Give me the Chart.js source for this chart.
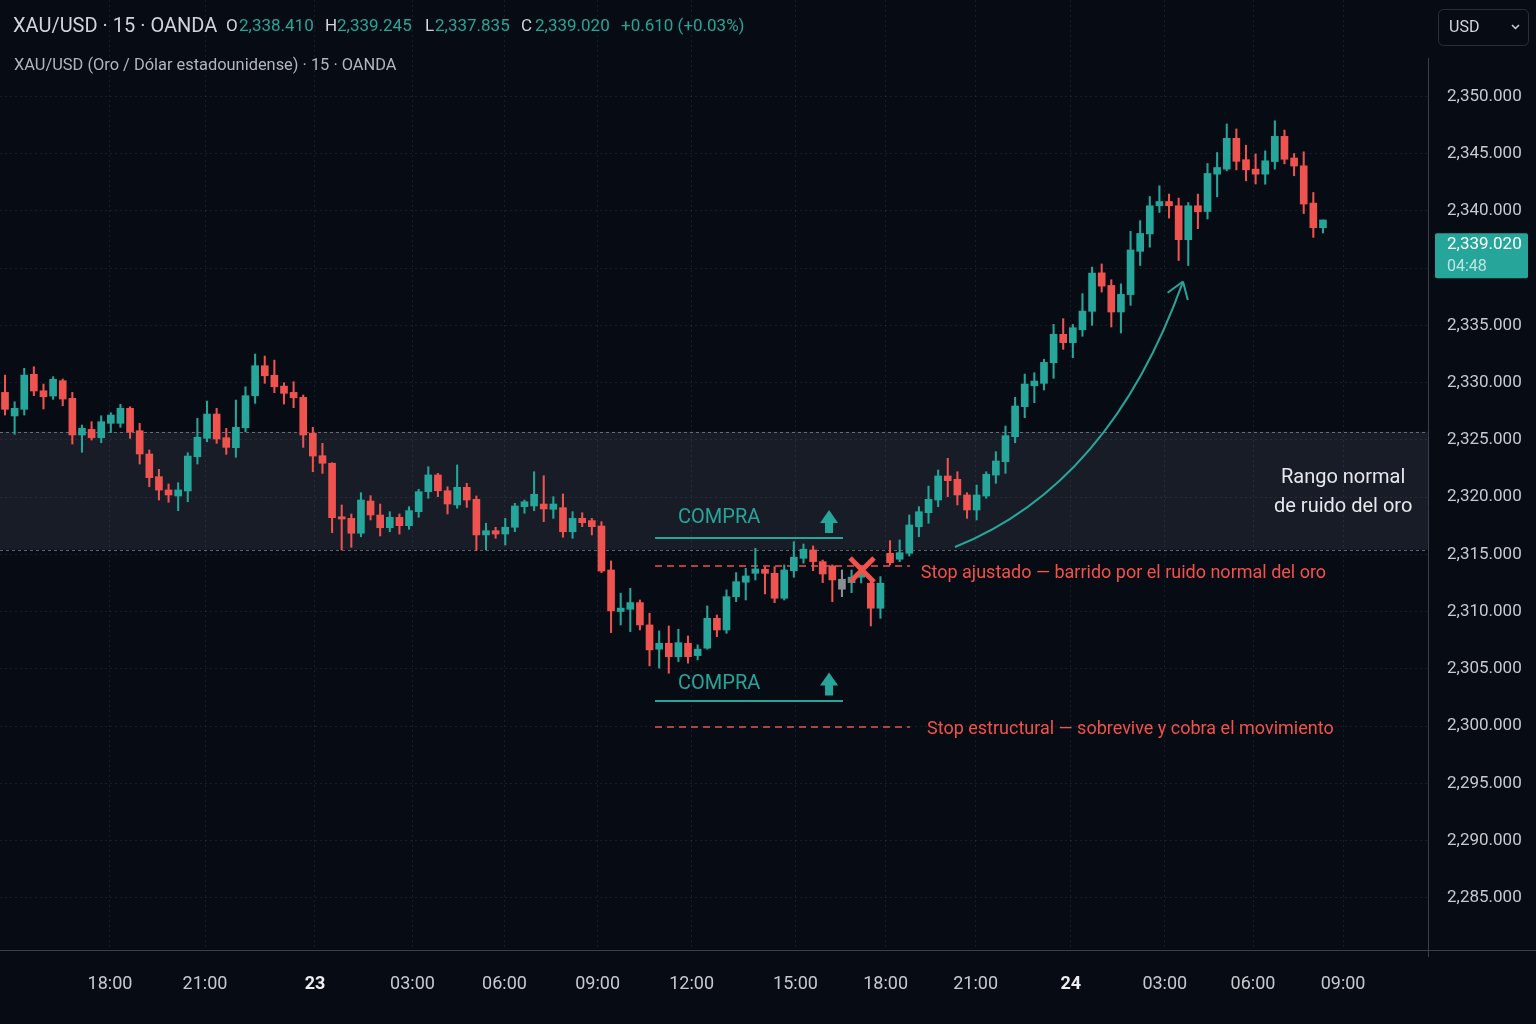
<!doctype html>
<html lang="es">
  <head>
    <meta charset="utf-8">
    <title>XAU/USD 15 OANDA</title>
    <script src="https://cdn.jsdelivr.net/npm/chart.js@4.4.1/dist/chart.umd.min.js"></script>
    <style>
      * { margin: 0; padding: 0; }
      body { background: #070b13; }
      canvas { display: block; }
    </style>
  </head>
  <body>
    <canvas id="myChart" width="1536" height="1024"></canvas>
    <script>
    // 15 min candles, one per index
    const opens = [
      2329.14, 2327.08, 2327.66, 2330.72, 2329.28, 2328.82, 2330.16, 2328.62, 2325.42, 2325.91,
      2325.18, 2326.44, 2326.44, 2327.75, 2325.79, 2323.76, 2321.78, 2320.62, 2320.09, 2320.53,
      2323.52, 2325.13, 2327.25, 2325.18, 2324.31, 2326.05, 2328.85, 2331.47, 2330.63, 2329.69,
      2329.14, 2328.71, 2325.57, 2323.61, 2322.95, 2318.28, 2318.14, 2316.84, 2319.65, 2318.43,
      2317.32, 2318.23, 2317.50, 2318.72, 2320.47, 2321.93, 2320.55, 2319.31, 2320.85, 2319.80,
      2316.69, 2317.06, 2316.77, 2317.36, 2319.16, 2319.22, 2319.39, 2318.93, 2319.07, 2316.97,
      2318.14, 2317.94, 2317.47, 2313.63, 2310.00, 2310.20, 2310.78, 2308.83, 2306.71, 2307.23,
      2306.06, 2307.23, 2306.15, 2306.80, 2309.41, 2308.39, 2311.30, 2312.56, 2313.34, 2313.69,
      2313.34, 2311.16, 2313.57, 2314.65, 2315.38, 2314.36, 2313.98, 2311.95, 2312.52, 2313.00,
      2312.47, 2310.29, 2315.09, 2314.57, 2315.09, 2317.41, 2318.63, 2319.74, 2321.84, 2321.55,
      2320.18, 2318.87, 2320.09, 2321.92, 2323.09, 2325.27, 2327.89, 2329.72, 2329.93, 2331.73,
      2334.21, 2333.48, 2334.61, 2335.61, 2337.29, 2336.74, 2335.58, 2336.34, 2338.23, 2338.99,
      2340.44, 2340.81, 2340.44, 2338.74, 2340.44, 2339.97, 2343.20, 2343.64, 2346.33, 2344.46,
      2343.64, 2343.20, 2344.30, 2346.50, 2344.61, 2343.93, 2340.67, 2339.26
    ];
    const highs = [
      2330.65, 2328.32, 2331.24, 2331.38, 2329.87, 2330.51, 2330.31, 2329.14, 2326.29, 2326.58,
      2327.10, 2327.36, 2328.10, 2327.89, 2326.44, 2324.11, 2322.42, 2321.14, 2321.25, 2323.87,
      2326.87, 2328.38, 2327.75, 2326.00, 2328.47, 2329.63, 2332.49, 2332.31, 2331.96, 2329.98,
      2330.07, 2328.91, 2326.09, 2324.69, 2323.00, 2319.31, 2318.52, 2320.38, 2320.12, 2319.39,
      2318.72, 2318.52, 2319.16, 2320.68, 2322.65, 2322.07, 2320.90, 2322.80, 2321.20, 2320.09,
      2317.71, 2317.36, 2318.14, 2319.45, 2319.74, 2322.21, 2321.86, 2320.03, 2320.27, 2318.72,
      2318.63, 2318.14, 2317.85, 2314.42, 2311.60, 2312.03, 2311.01, 2309.85, 2308.31, 2308.74,
      2308.45, 2307.87, 2307.09, 2310.49, 2309.70, 2311.89, 2313.40, 2313.78, 2315.52, 2313.92,
      2313.92, 2314.07, 2316.10, 2315.90, 2315.73, 2314.50, 2314.07, 2313.63, 2313.63, 2313.70,
      2313.05, 2313.05, 2316.19, 2316.25, 2318.43, 2319.16, 2320.96, 2322.36, 2323.38, 2322.21,
      2320.38, 2321.05, 2322.21, 2323.96, 2326.20, 2328.71, 2330.74, 2330.86, 2332.03, 2335.04,
      2335.29, 2335.04, 2336.38, 2337.54, 2337.68, 2336.99, 2336.81, 2339.10, 2339.57, 2341.25,
      2342.18, 2341.46, 2341.11, 2340.72, 2341.46, 2344.13, 2345.09, 2347.58, 2347.15, 2345.73,
      2344.96, 2345.23, 2347.86, 2347.05, 2345.00, 2345.15, 2341.60, 2339.60
    ];
    const lows = [
      2327.16, 2325.48, 2327.16, 2328.85, 2327.69, 2328.53, 2327.97, 2324.63, 2323.91, 2324.98,
      2324.74, 2325.62, 2326.09, 2325.13, 2322.88, 2320.90, 2319.74, 2319.54, 2318.81, 2319.59,
      2322.88, 2324.83, 2324.69, 2323.73, 2323.47, 2325.70, 2328.18, 2329.93, 2329.11, 2328.12,
      2327.80, 2324.34, 2322.21, 2322.07, 2316.89, 2315.38, 2315.61, 2316.54, 2318.00, 2316.60,
      2316.97, 2316.77, 2317.18, 2318.23, 2319.89, 2320.03, 2318.52, 2319.02, 2319.10, 2315.32,
      2315.38, 2316.40, 2315.81, 2316.97, 2318.58, 2318.81, 2317.85, 2318.14, 2316.49, 2316.40,
      2317.41, 2316.69, 2313.40, 2308.16, 2308.83, 2308.25, 2308.39, 2305.25, 2305.05, 2304.61,
      2305.63, 2305.49, 2305.78, 2306.71, 2307.81, 2308.10, 2310.86, 2311.01, 2312.76, 2311.54,
      2310.77, 2311.01, 2312.99, 2314.22, 2313.57, 2312.52, 2310.86, 2311.30, 2311.65, 2312.50,
      2308.74, 2309.41, 2314.07, 2314.36, 2314.85, 2316.54, 2317.71, 2319.16, 2320.03, 2319.31,
      2318.14, 2318.00, 2319.89, 2321.20, 2322.07, 2324.74, 2326.93, 2328.24, 2329.35, 2330.37,
      2332.90, 2332.17, 2334.04, 2335.00, 2336.45, 2334.85, 2334.33, 2335.87, 2337.61, 2338.41,
      2339.93, 2339.68, 2337.83, 2337.61, 2339.22, 2339.64, 2341.22, 2343.49, 2343.57, 2342.62,
      2342.34, 2342.32, 2343.64, 2344.10, 2343.06, 2339.88, 2338.84, 2339.03
    ];
    const closes = [
      2327.66, 2327.75, 2330.65, 2329.26, 2328.76, 2330.28, 2328.56, 2325.42, 2326.00, 2325.18,
      2326.58, 2327.16, 2327.75, 2325.70, 2323.76, 2321.69, 2320.61, 2320.18, 2320.62, 2323.58,
      2325.22, 2327.25, 2325.07, 2324.34, 2326.09, 2328.85, 2331.47, 2330.59, 2329.63, 2329.06,
      2328.67, 2325.42, 2323.58, 2322.95, 2318.20, 2318.08, 2316.84, 2319.74, 2318.43, 2317.32,
      2318.23, 2317.50, 2318.81, 2320.47, 2321.93, 2320.55, 2319.39, 2320.85, 2319.74, 2316.69,
      2317.06, 2316.77, 2317.36, 2319.22, 2319.59, 2320.24, 2318.96, 2319.39, 2316.97, 2318.14,
      2317.76, 2317.41, 2313.54, 2310.05, 2310.30, 2310.78, 2308.83, 2306.65, 2307.23, 2306.06,
      2307.28, 2306.06, 2306.71, 2309.41, 2308.39, 2311.30, 2312.61, 2313.11, 2313.72, 2313.34,
      2311.16, 2313.63, 2314.74, 2315.44, 2314.36, 2313.28, 2312.76, 2312.82, 2313.00, 2313.30,
      2310.29, 2312.47, 2314.27, 2315.14, 2317.56, 2318.72, 2319.80, 2321.84, 2321.43, 2320.18,
      2318.87, 2320.18, 2321.99, 2323.15, 2325.36, 2327.95, 2329.87, 2330.13, 2331.76, 2334.21,
      2333.48, 2334.79, 2335.62, 2337.28, 2336.71, 2335.58, 2336.35, 2338.29, 2339.01, 2340.44,
      2340.81, 2340.44, 2338.74, 2340.44, 2339.96, 2343.26, 2343.78, 2346.33, 2344.32, 2343.58,
      2343.20, 2344.37, 2346.50, 2344.50, 2343.91, 2340.59, 2339.26, 2339.60
    ];
    const greyBars = [87];

    // time axis: label positions in candle units
    const timeTicks = [10.91, 20.79, 32.22, 42.36, 51.92, 61.6, 71.37, 82.17, 91.54, 100.9, 110.78, 120.56, 129.73, 139.09];
    const timeLabels = ['18:00', '21:00', '23', '03:00', '06:00', '09:00', '12:00', '15:00', '18:00', '21:00', '24', '03:00', '06:00', '09:00'];
    const dayLabels = ['23', '24'];

    const priceTicks = [2285, 2290, 2295, 2300, 2305, 2310, 2315, 2320, 2325, 2330, 2335, 2340, 2345, 2350];
    const lastPrice = 2339.02;
    const noiseBand = [2315.4, 2325.7];
    const tightStop = 2313.98;
    const structStop = 2299.92;
    const buyLevels = [2316.42, 2302.19];

    const green = '#26a69a', red = '#ef5350', grey = '#8b8e95';

    // the printed price scale gives 2335 -> 2340 two grid rows, so values are warped
    function warp(v) {
      if (v == null || v <= 2335) return v;
      if (v >= 2340) return v + 5;
      return 2335 + (v - 2335) * 2;
    }
    function unwarp(u) {
      if (u <= 2335) return u;
      if (u >= 2345) return u - 5;
      return 2335 + (u - 2335) / 2;
    }
    class PriceScale extends Chart.LinearScale {
      getPixelForValue(v) { return super.getPixelForValue(warp(v)); }
      getValueForPixel(p) { return unwarp(super.getValueForPixel(p)); }
    }
    PriceScale.id = 'price';
    PriceScale.defaults = {};
    Chart.register(PriceScale);

    function candleColor(i) {
      if (greyBars.includes(i)) return grey;
      return closes[i] >= opens[i] ? green : red;
    }

    function hline(c, x1, x2, y) {
      c.beginPath(); c.moveTo(x1, y); c.lineTo(x2, y); c.stroke();
    }

    function upArrow(c, cx, cy) {
      c.beginPath();
      c.moveTo(cx, cy - 11.5);
      c.lineTo(cx + 9, cy + 1.5);
      c.lineTo(cx + 4, cy + 1.5);
      c.lineTo(cx + 4, cy + 11.5);
      c.lineTo(cx - 4, cy + 11.5);
      c.lineTo(cx - 4, cy + 1.5);
      c.lineTo(cx - 9, cy + 1.5);
      c.closePath();
      c.fill();
    }

    const overlay = {
      id: 'overlay',
      beforeDraw(chart) {
        const c = chart.ctx;
        c.save();
        c.fillStyle = '#070b13';
        c.fillRect(0, 0, chart.width, chart.height);
        c.restore();
      },
      beforeDatasetsDraw(chart) {
        const {ctx: c, chartArea: a, scales: {x, y}} = chart;
        c.save();
        const yTop = y.getPixelForValue(noiseBand[1]);
        const yBot = y.getPixelForValue(noiseBand[0]);
        c.fillStyle = 'rgba(140,150,170,0.13)';
        c.fillRect(a.left, yTop, a.right - a.left, yBot - yTop);
        c.strokeStyle = 'rgba(170,175,185,0.55)';
        c.lineWidth = 1;
        c.setLineDash([3, 3]);
        hline(c, a.left, a.right, Math.round(yTop) + 0.5);
        hline(c, a.left, a.right, Math.round(yBot) + 0.5);

        c.strokeStyle = '#f0524c';
        c.lineWidth = 1.5;
        c.setLineDash([7, 5]);
        hline(c, x.getPixelForValue(67.57), x.getPixelForValue(94.07), y.getPixelForValue(tightStop));
        hline(c, x.getPixelForValue(67.57), x.getPixelForValue(94.07), y.getPixelForValue(structStop));
        c.restore();
      },
      afterDatasetsDraw(chart) {
        const {ctx: c, scales: {x, y}} = chart;
        c.save();
        c.textBaseline = 'middle';

        // buy entries
        c.strokeStyle = green;
        c.fillStyle = green;
        c.lineWidth = 2;
        buyLevels.forEach(v => hline(c, x.getPixelForValue(67.57), x.getPixelForValue(87.11), y.getPixelForValue(v)));
        c.font = '20px Roboto';
        c.fillText('COMPRA', x.getPixelForValue(69.96), y.getPixelForValue(2318.17));
        c.fillText('COMPRA', x.getPixelForValue(69.96), y.getPixelForValue(2303.68));
        upArrow(c, x.getPixelForValue(85.66), y.getPixelForValue(2317.87));
        upArrow(c, x.getPixelForValue(85.66), y.getPixelForValue(2303.68));

        // stop texts
        c.fillStyle = '#f0524c';
        c.font = '18px Roboto';
        c.fillText('Stop ajustado \u2014 barrido por el ruido normal del oro', x.getPixelForValue(95.2), y.getPixelForValue(2313.28));
        c.fillText('Stop estructural \u2014 sobrevive y cobra el movimiento', x.getPixelForValue(95.84), y.getPixelForValue(2299.66));

        // stopped-out mark
        const mx = x.getPixelForValue(89.09), my = y.getPixelForValue(2313.63);
        c.strokeStyle = '#f0524c';
        c.lineWidth = 5;
        c.beginPath();
        c.moveTo(mx - 12, my - 12); c.lineTo(mx + 12, my + 12);
        c.moveTo(mx + 12, my - 12); c.lineTo(mx - 12, my + 12);
        c.stroke();

        // move arrow
        const p0 = [x.getPixelForValue(98.75), y.getPixelForValue(2315.64)];
        const p1 = [x.getPixelForValue(114.86), y.getPixelForValue(2321.05)];
        const p2 = [x.getPixelForValue(122.45), y.getPixelForValue(2336.91)];
        c.strokeStyle = green;
        c.lineWidth = 2;
        c.beginPath();
        c.moveTo(p0[0], p0[1]);
        c.quadraticCurveTo(p1[0], p1[1], p2[0], p2[1]);
        c.stroke();
        const ang = Math.atan2(p1[1] - p2[1], p1[0] - p2[0]);
        c.beginPath();
        [-0.6, 0.6].forEach(d => {
          c.moveTo(p2[0], p2[1]);
          c.lineTo(p2[0] + 19 * Math.cos(ang + d), p2[1] + 19 * Math.sin(ang + d));
        });
        c.stroke();

        // band caption
        c.fillStyle = '#e6e8ec';
        c.font = '20px Roboto';
        c.textAlign = 'center';
        c.fillText('Rango normal', x.getPixelForValue(139.1), y.getPixelForValue(2321.66));
        c.fillText('de ruido del oro', x.getPixelForValue(139.1), y.getPixelForValue(2319.13));
        c.textAlign = 'left';

        // axis frame
        c.strokeStyle = '#3b3f48';
        c.lineWidth = 1;
        hline(c, 0, chart.width, 950.5);
        c.beginPath(); c.moveTo(1428.5, 58); c.lineTo(1428.5, 957); c.stroke();

        // header
        c.font = '20px Roboto';
        c.fillStyle = '#d1d4dc';
        c.fillText('XAU/USD \u00b7 15 \u00b7 OANDA', 13, 27);
        c.font = '17px Roboto';
        const parts = [
          ['O', 226, '#d1d4dc'], ['2,338.410', 239, green],
          ['H', 325, '#d1d4dc'], ['2,339.245', 337, green],
          ['L', 425, '#d1d4dc'], ['2,337.835', 435, green],
          ['C', 521, '#d1d4dc'], ['2,339.020', 535, green],
          ['+0.610 (+0.03%)', 621, green]
        ];
        parts.forEach(p => { c.fillStyle = p[2]; c.fillText(p[0], p[1], 27); });
        c.fillStyle = '#b2b5be';
        c.font = '16.4px Roboto';
        c.fillText('XAU/USD (Oro / D\u00f3lar estadounidense) \u00b7 15 \u00b7 OANDA', 14, 66);

        // currency button
        c.strokeStyle = '#2a2e39';
        c.beginPath();
        c.roundRect(1438.5, 9.5, 90, 36, 5);
        c.stroke();
        c.fillStyle = '#d1d4dc';
        c.font = '16px Roboto';
        c.fillText('USD', 1449, 28);
        c.strokeStyle = '#d1d4dc';
        c.lineWidth = 1.5;
        c.beginPath(); c.moveTo(1512, 25); c.lineTo(1515.5, 28.5); c.lineTo(1519, 25); c.stroke();

        // last price tag
        const py = y.getPixelForValue(lastPrice);
        c.fillStyle = green;
        c.beginPath();
        c.roundRect(1435, py, 93, 45, 2);
        c.fill();
        c.fillStyle = '#ffffff';
        c.font = '17px Roboto';
        c.fillText('2,339.020', 1447, py + 12);
        c.fillStyle = 'rgba(255,255,255,0.7)';
        c.font = '16px Roboto';
        c.fillText('04:48', 1447, py + 34);
        c.restore();
      }
    };

    function noPadding(s) {
      s.paddingTop = 0; s.paddingBottom = 0; s.paddingLeft = 0; s.paddingRight = 0;
    }

    new Chart(document.getElementById('myChart'), {
      type: 'bar',
      data: {
        datasets: [{
          label: 'body',
          data: opens.map((o, i) => ({x: i, y: [o, closes[i]]})),
          backgroundColor: ctx => candleColor(ctx.dataIndex),
          barThickness: 7,
          minBarLength: 1.5,
          grouped: false
        }, {
          label: 'wick',
          data: lows.map((l, i) => ({x: i, y: [l, highs[i]]})),
          backgroundColor: ctx => candleColor(ctx.dataIndex),
          barThickness: 1.4,
          grouped: false
        }]
      },
      options: {
        responsive: false,
        animation: false,
        layout: { padding: 0 },
        plugins: { legend: { display: false }, tooltip: { enabled: false } },
        scales: {
          x: {
            type: 'linear',
            min: -0.52,
            max: 147.92,
            offset: false,
            afterFit: s => { s.height = 74; noPadding(s); },
            afterBuildTicks: s => { s.ticks = timeTicks.map(v => ({value: v})); },
            grid: { color: 'rgba(120,130,150,0.16)', drawTicks: false, offset: false },
            border: { display: false, dash: [2, 3] },
            ticks: {
              autoSkip: false,
              maxRotation: 0,
              padding: 24,
              color: ctx => dayLabels.includes(timeLabels[ctx.index]) ? '#eceef2' : '#c6c9d0',
              font: ctx => ({ family: 'Roboto', size: 18, weight: dayLabels.includes(timeLabels[ctx.index]) ? 'bold' : 'normal' }),
              callback: (v, i) => timeLabels[i]
            }
          },
          y: {
            type: 'price',
            position: 'right',
            // limits in warped units (2280.44 .. 2358.41 printed)
            min: 2280.44,
            max: 2363.41,
            bounds: 'data',
            afterFit: s => { s.width = 108; noPadding(s); },
            afterBuildTicks: s => {
              // extra grid row inside the stretched 2335-2340 step
              s.ticks = priceTicks.concat([2337.5]).map(v => ({value: v}));
            },
            grid: { color: 'rgba(120,130,150,0.16)', drawTicks: false },
            border: { display: false, dash: [2, 3] },
            ticks: {
              autoSkip: false,
              padding: 19,
              color: '#c6c9d0',
              font: { family: 'Roboto', size: 17 },
              callback: v => priceTicks.includes(v) ? v.toLocaleString('en-US', {minimumFractionDigits: 3}) : ''
            }
          }
        }
      },
      plugins: [overlay]
    });
    </script>
  </body>
</html>
